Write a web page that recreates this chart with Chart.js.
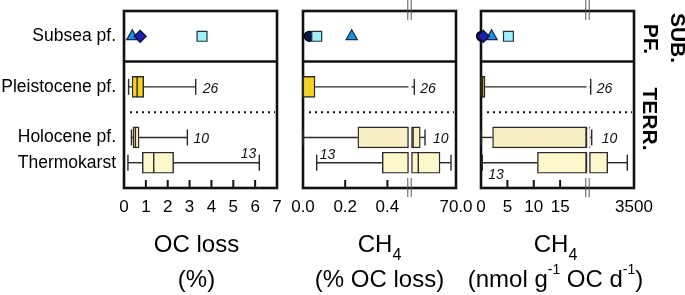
<!DOCTYPE html>
<html>
<head>
<meta charset="utf-8">
<script src="https://cdn.jsdelivr.net/npm/chart.js@4.4.0/dist/chart.umd.min.js"></script>
<style>
  html, body { margin: 0; padding: 0; background: #fff; }
  #wrap { position: relative; width: 685px; height: 295px; overflow: hidden; }
  #wrap canvas { position: absolute; left: 0; top: 0; }
</style>
</head>
<body>
<div id="wrap">
  <canvas id="chartOc" width="685" height="295"></canvas>
  <canvas id="chartPct" width="685" height="295"></canvas>
  <canvas id="chartRate" width="685" height="295"></canvas>
</div>
<script>
// row labels (top to bottom) and the three terrestrial box groups
const rowNames = ['Subsea pf.', 'Pleistocene pf.', 'Holocene pf.', 'Thermokarst'];
const boxGroups = ['Pleistocene pf.', 'Holocene pf.', 'Thermokarst'];
const sampleSizes = [26, 10, 13];
// subsea studies, one marker each: diamond, square, triangle, circle
const subseaStudies = ['diamond', 'square', 'triangle', 'circle'];

// box stats: [min, q1, median, q3, max]
const ocLossBoxes = [
    [0.21, 0.37, 0.60, 0.90, 3.28],
    [0.34, 0.41, 0.52, 0.69, 2.90],
    [0.18, 0.84, 1.36, 2.27, 6.19]
];
const ocLossSubsea = [0.74, 3.57, 0.38, null];
const ocLossTicks = [0, 1, 2, 3, 4, 5, 6, 7];
const ocLossTickLabels = ['0', '1', '2', '3', '4', '5', '6', '7'];

const ch4PctBoxes = [
    [0, 0, 0, 0.057, 4.9],
    [0, 0.26, 3, 14.2, 21.6],
    [0.065, 0.376, 11.1, 45, 62.2]
];
const ch4PctSubsea = [null, 0.065, 0.231, 0.03];
const ch4PctTicks = [0, 0.2, 0.4, 70];
const ch4PctTickLabels = ['0.0', '0.2', '0.4', '70.0'];

const ch4RateBoxes = [
    [0, 0, 0.3, 0.76, 114],
    [0, 2.2, 20, 59, 192],
    [0.25, 10.7, 20, 1443, 2976]
];
const ch4RateSubsea = [0.44, 5.2, 2.0, 0.1];
const ch4RateTicks = [0, 5, 10, 15, 3500];
const ch4RateTickLabels = ['0', '5', '10', '15', '3500'];

// layout
const FONT = '"Liberation Sans", Arial, Helvetica, sans-serif';
const PANEL_W = 153, SEG_W = 105.5, GAP_W = 3;
const rowY = [6, 4, 2, 1];          // y-axis positions of the rows
const boxY = [4, 2, 1];
const dividerY = 5, dottedY = 3;
const boxFills = ['#f2d125', '#f8f0c4', '#fdf7cc'];
const markerStyle = {
    diamond:  { pointStyle: 'rectRot',  radius: 6,   bg: '#2020a6', border: '#0a0a4a' },
    square:   { pointStyle: 'rect',     radius: 7,   bg: '#a2eef9', border: '#1d3340' },
    triangle: { pointStyle: 'triangle', radius: 6.5, bg: '#1d8fd5', border: '#0b2a52' },
    circle:   { pointStyle: 'circle',   radius: 5,   bg: '#0b1746', border: '#000000' }
};

function linearMap(maxVal) {
    return v => v / maxVal * PANEL_W;
}
function brokenMap(breakAt, maxVal) {
    const rightW = PANEL_W - SEG_W - GAP_W;
    return v => v <= breakAt ? v / breakAt * SEG_W
        : SEG_W + GAP_W + (v - breakAt) / (maxVal - breakAt) * rightW;
}
function splitGap(a, b, gap) {
    if (!gap) return [[a, b]];
    const out = [];
    if (a < gap[0]) out.push([a, Math.min(b, gap[0])]);
    if (b > gap[1]) out.push([Math.max(a, gap[1]), b]);
    return out;
}

const panels = [
    {
        canvas: 'chartOc', left: 124, showRows: true, gap: null,
        map: linearMap(7), boxes: ocLossBoxes, subsea: ocLossSubsea,
        ticks: ocLossTicks, tickLabels: ocLossTickLabels,
        nPlace: [{ at: 4, dx: 7, dy: 6, align: 'left' }, { at: 4, dx: 6, dy: 6, align: 'left' }, { at: 4, dx: -3, dy: -5, align: 'right' }],
        titleShift: -4,
        title: [[{ t: 'OC loss' }], [{ t: '(%)' }]]
    },
    {
        canvas: 'chartPct', left: 303, showRows: false, gap: [SEG_W, SEG_W + GAP_W],
        map: brokenMap(0.5, 70), boxes: ch4PctBoxes, subsea: ch4PctSubsea,
        ticks: ch4PctTicks, tickLabels: ch4PctTickLabels,
        nPlace: [{ at: 4, dx: 6, dy: 6, align: 'left' }, { at: 4, dx: 8, dy: 6, align: 'left' }, { at: 0, dx: 3, dy: -4, align: 'left' }],
        titleShift: 0,
        title: [[{ t: 'CH' }, { t: '4', sub: true }], [{ t: '(% OC loss)' }]]
    },
    {
        canvas: 'chartRate', left: 481, showRows: false, gap: [SEG_W, SEG_W + GAP_W],
        map: brokenMap(20, 3500), boxes: ch4RateBoxes, subsea: ch4RateSubsea,
        ticks: ch4RateTicks, tickLabels: ch4RateTickLabels,
        nPlace: [{ at: 4, dx: 6, dy: 6, align: 'left' }, { at: 4, dx: 10, dy: 6, align: 'left' }, { at: 0, dx: 6, dy: 16, align: 'left' }],
        titleShift: -2,
        title: [[{ t: 'CH' }, { t: '4', sub: true }], [{ t: '(nmol g' }, { t: '-1', sup: true }, { t: ' OC d' }, { t: '-1', sup: true }, { t: ')' }]],
        sideLabels: true
    }
];

function line(ctx, x1, y1, x2, y2) {
    ctx.beginPath();
    ctx.moveTo(x1, y1);
    ctx.lineTo(x2, y2);
    ctx.stroke();
}

function drawRich(ctx, parts, cx, base) {
    const fontFor = pt => pt.sub ? '16px ' + FONT : pt.sup ? '14px ' + FONT : '24px ' + FONT;
    const widths = parts.map(pt => { ctx.font = fontFor(pt); return ctx.measureText(pt.t).width; });
    let x = cx - widths.reduce((s, w) => s + w, 0) / 2;
    ctx.textAlign = 'left';
    ctx.textBaseline = 'alphabetic';
    parts.forEach((pt, i) => {
        ctx.font = fontFor(pt);
        ctx.fillText(pt.t, x, base + (pt.sub ? 8 : pt.sup ? -13 : 0));
        x += widths[i];
    });
}

function drawRotated(ctx, text, cx, cy) {
    ctx.save();
    ctx.translate(cx, cy);
    ctx.rotate(Math.PI / 2);
    ctx.textAlign = 'center';
    ctx.textBaseline = 'middle';
    ctx.fillText(text, 0, 0);
    ctx.restore();
}

function panelPlugin(p) {
    return {
        id: 'panel_' + p.canvas,
        beforeDatasetsDraw(chart) {
            const ctx = chart.ctx, a = chart.chartArea, x = chart.scales.x, y = chart.scales.y;
            ctx.save();
            ctx.strokeStyle = '#111';
            ctx.lineWidth = 2.6;
            ctx.strokeRect(a.left, a.top, a.right - a.left, a.bottom - a.top);
            const yDiv = y.getPixelForValue(dividerY);
            line(ctx, a.left, yDiv, a.right, yDiv);

            ctx.lineWidth = 2;
            ctx.setLineDash([2, 4]);
            const yDot = y.getPixelForValue(dottedY);
            line(ctx, a.left + 6, yDot, a.right - 2, yDot);
            ctx.setLineDash([]);

            // tick marks pointing into the panel
            p.ticks.forEach((v, i) => {
                if (i === 0 || i === p.ticks.length - 1) return;
                const px = x.getPixelForValue(p.map(v));
                line(ctx, px, a.bottom, px, a.bottom - 8);
            });
            ctx.restore();
        },
        afterDatasetsDraw(chart) {
            const ctx = chart.ctx, a = chart.chartArea, x = chart.scales.x, y = chart.scales.y;
            ctx.save();
            ctx.strokeStyle = '#2a2a2a';
            ctx.lineWidth = 1.4;
            p.boxes.forEach((s, i) => {
                const py = y.getPixelForValue(boxY[i]);
                const t = s.map(p.map);
                splitGap(t[0], t[1], p.gap).concat(splitGap(t[3], t[4], p.gap)).forEach(([u, w]) => {
                    line(ctx, x.getPixelForValue(u), py, x.getPixelForValue(w), py);
                });
                [t[0], t[4]].forEach(u => {
                    const px = x.getPixelForValue(u);
                    line(ctx, px, py - 8, px, py + 8);
                });
                const pm = x.getPixelForValue(t[2]);
                line(ctx, pm, py - 10.5, pm, py + 10.5);

                const place = p.nPlace[i];
                ctx.fillStyle = '#111';
                ctx.font = 'italic 14px ' + FONT;
                ctx.textAlign = place.align;
                ctx.textBaseline = 'alphabetic';
                ctx.fillText(String(sampleSizes[i]), x.getPixelForValue(t[place.at]) + place.dx, py + place.dy);
            });

            if (p.gap) {
                const gx = x.getPixelForValue((p.gap[0] + p.gap[1]) / 2) - 0.5;
                ctx.strokeStyle = '#555';
                ctx.lineWidth = 1;
                [gx - 1.7, gx + 1.7].forEach(xx => {
                    line(ctx, xx, 0, xx, a.top + 9);
                    line(ctx, xx, a.bottom - 10, xx, a.bottom + 9);
                });
            }
            ctx.restore();
        },
        afterDraw(chart) {
            const ctx = chart.ctx, a = chart.chartArea;
            ctx.save();
            ctx.fillStyle = '#000';
            const cx = (a.left + a.right) / 2 + p.titleShift;
            drawRich(ctx, p.title[0], cx, 252);
            drawRich(ctx, p.title[1], cx, 287);
            if (p.sideLabels) {
                ctx.font = 'bold 21px ' + FONT;
                drawRotated(ctx, 'SUB.', 677, 38);
                drawRotated(ctx, 'PF.', 650, 39);
                drawRotated(ctx, 'TERR.', 649, 119);
            }
            ctx.restore();
        }
    };
}

panels.forEach(p => {
    const markerSets = subseaStudies.map((name, k) => {
        const st = markerStyle[name];
        const v = p.subsea[k];
        return {
            type: 'scatter',
            label: name,
            data: v == null ? [] : [{ x: p.map(v), y: rowY[0] }],
            pointStyle: st.pointStyle,
            pointRadius: st.radius,
            backgroundColor: st.bg,
            borderColor: st.border,
            borderWidth: 1.2,
            clip: false
        };
    });

    const barData = [], barColors = [];
    p.boxes.forEach((s, i) => {
        splitGap(p.map(s[1]), p.map(s[3]), p.gap).forEach(([u, w]) => {
            barData.push({ y: boxY[i], x: [u, w] });
            barColors.push(boxFills[i]);
        });
    });

    new Chart(document.getElementById(p.canvas), {
        type: 'bar',
        data: {
            datasets: markerSets.concat([{
                type: 'bar',
                label: 'boxes',
                indexAxis: 'y',
                data: barData,
                backgroundColor: barColors,
                borderColor: '#2a2a2a',
                borderWidth: 1.4,
                borderSkipped: false,
                barThickness: 21,
                grouped: false
            }])
        },
        options: {
            responsive: false,
            animation: false,
            events: [],
            layout: { padding: { left: p.showRows ? 0 : p.left, right: 685 - p.left - PANEL_W, top: 11, bottom: 0 } },
            plugins: { legend: { display: false }, tooltip: { enabled: false } },
            scales: {
                x: {
                    type: 'linear', min: 0, max: PANEL_W, offset: false, grace: 0,
                    grid: { display: false, drawTicks: false, offset: false },
                    border: { display: false },
                    afterBuildTicks: s => { s.ticks = p.ticks.map(v => ({ value: p.map(v) })); },
                    afterFit: s => {
                        s.height = 107;
                        s.paddingLeft = 0; s.paddingRight = 0;
                    },
                    ticks: {
                        autoSkip: false, maxRotation: 0, minRotation: 0, padding: 9, color: '#000',
                        font: { size: 17, family: FONT },
                        callback: (v, i) => p.tickLabels[i]
                    }
                },
                y: {
                    type: 'linear', min: 0, max: 7, offset: false, grace: 0, display: p.showRows,
                    grid: { display: false, drawTicks: false, offset: false },
                    border: { display: false },
                    afterBuildTicks: s => { s.ticks = rowY.map(v => ({ value: v })); },
                    afterFit: s => {
                        s.width = p.showRows ? 124 : 0;
                        s.paddingTop = 0; s.paddingBottom = 0;
                    },
                    ticks: {
                        padding: 8, color: '#000',
                        font: { size: 17.5, family: FONT },
                        callback: (v, i) => rowNames[i]
                    }
                }
            }
        },
        plugins: [panelPlugin(p)]
    });
});
</script>
</body>
</html>
